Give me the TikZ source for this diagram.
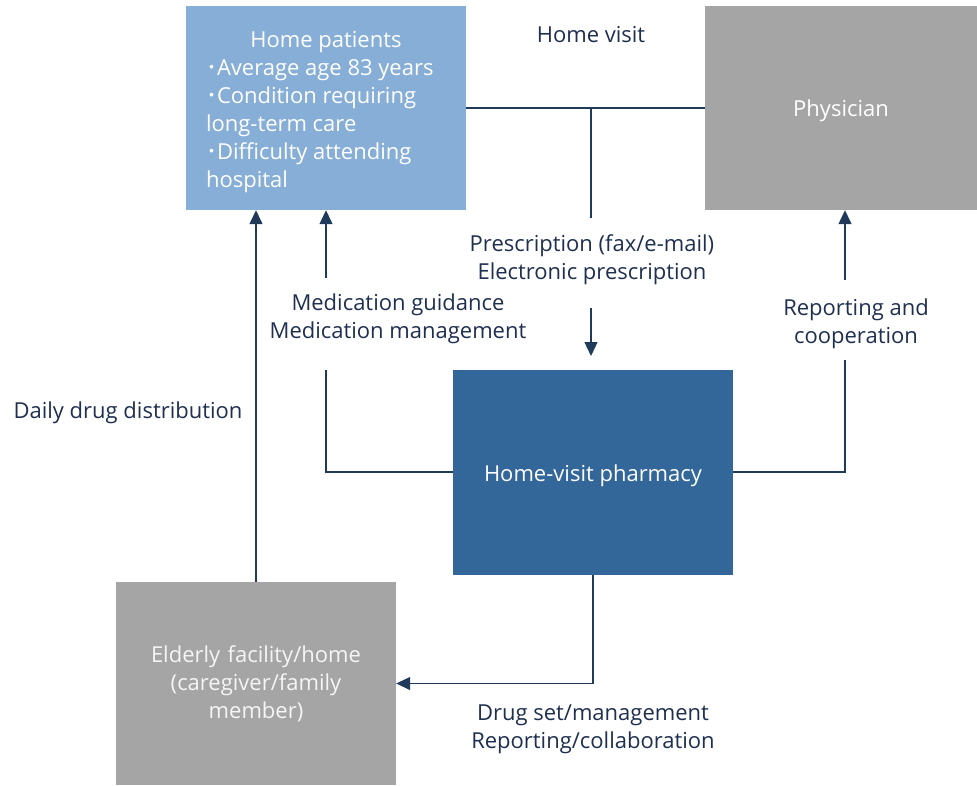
\documentclass[tikz,border=0pt]{standalone}
\usepackage{fontspec}
\setmainfont{Open Sans}
\newfontfamily\cjk{Noto Sans CJK JP}
\usetikzlibrary{arrows.meta}
\definecolor{patientblue}{HTML}{86AED6}
\definecolor{pharmablue}{HTML}{336699}
\definecolor{boxgray}{HTML}{A5A5A5}
\definecolor{linknavy}{HTML}{203A5C}
\definecolor{labelnavy}{HTML}{1F2F50}
\newcommand{\dropped}[2]{\raisebox{-#1}[\height][\depth]{#2}}

\begin{document}
\begin{tikzpicture}[x=1pt,y=-1pt,
  font=\fontsize{22}{28}\selectfont,
  box/.style={minimum width=280pt,minimum height=204pt,inner sep=0pt,text=white},
  link/.style={draw=linknavy,line width=1.3pt},
  arr/.style={link,-{Triangle[width=13pt,length=14pt]}},
  lbl/.style={text=labelnavy,align=center,inner sep=0pt}]
\useasboundingbox (0,0) rectangle (977,785);
% boxes
\node[box,fill=patientblue] (patients) at (326,108)
  {\dropped{4pt}{\parbox{240pt}{\raggedright
   \makebox[240pt]{Home patients}\\
   {\cjk ･}Average age 83 years\\
   {\cjk ･}Condition requiring\\
   long-term care\\
   {\cjk ･}Difficulty attending\\
   hospital}}};
\node[box,fill=boxgray,minimum width=272pt] (physician) at (841,108) {\dropped{3pt}{Physician}};
\node[box,fill=pharmablue,minimum height=205pt] (pharmacy) at (593,472.5) {\dropped{3pt}{Home-visit pharmacy}};
\node[box,fill=boxgray,minimum height=203pt,text width=240pt,align=center,text=white!92!gray] (facility) at (256,683.5)
  {Elderly facility/home\\(caregiver/family\\member)};
% labels
\node[lbl] (visit) at (591,35) {Home visit};
\node[lbl] (rx) at (592,260) {Prescription (fax/e-mail)\\Electronic prescription};
\node[lbl] (guide) at (398,319) {Medication guidance\\Medication management};
\node[lbl] (report) at (856,324) {Reporting and\\cooperation};
\node[lbl] (daily) at (128,413) {Daily drug distribution};
\node[lbl] (drugset) at (593,729) {Drug set/management\\Reporting/collaboration};
% connector points
\coordinate (rxtop) at (591,108);
\coordinate (rxmid) at (591,218);
\coordinate (rxlow) at (591,308);
\coordinate (rxend) at (591,356);
\coordinate (guidetop) at (326,278);
\coordinate (guidelow) at (326,370);
\coordinate (reporttop) at (845,280);
\coordinate (reportlow) at (845,360);
% connectors
\draw[link] (patients.east) -- (physician.west);
\draw[link] (rxtop) -- (rxmid);
\draw[arr] (rxlow) -- (rxend);
\draw[arr] (guidetop) -- (guidetop |- patients.south);
\draw[link] (pharmacy.west |- 0,472) -| (guidelow);
\draw[arr] (reporttop) -- (reporttop |- physician.south);
\draw[link] (pharmacy.east |- 0,472) -| (reportlow);
\draw[arr] (facility.north) -- (facility.north |- patients.south);
\draw[arr] (pharmacy.south) |- (facility.east);
\end{tikzpicture}
\end{document}
